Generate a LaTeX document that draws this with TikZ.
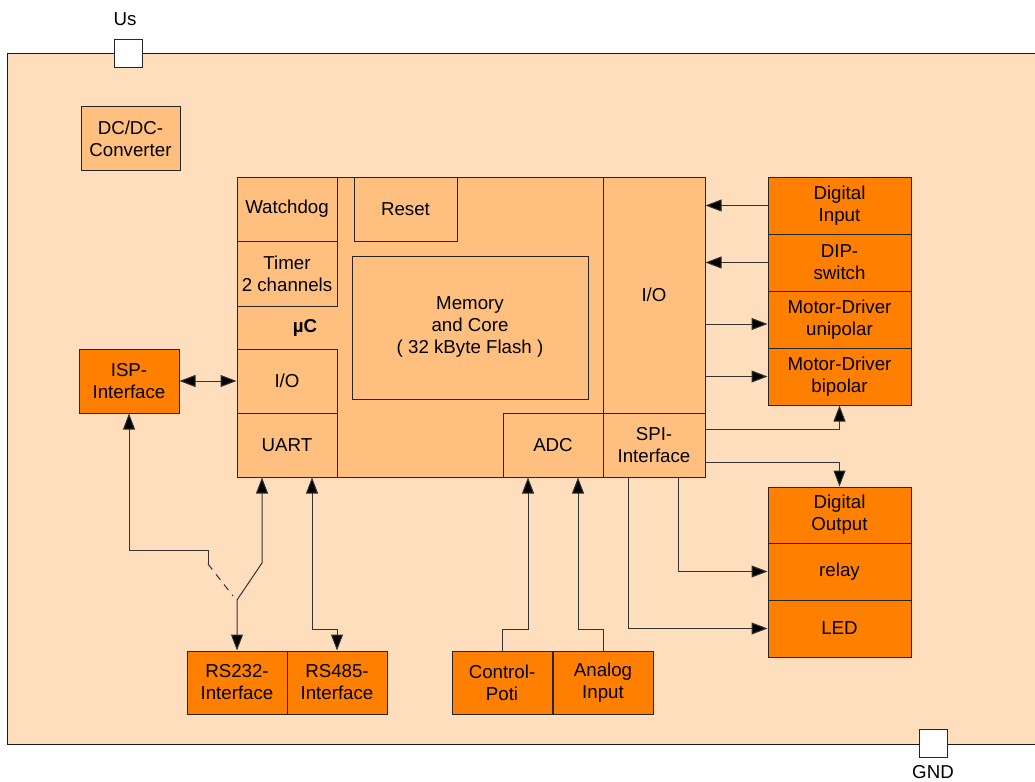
\documentclass[tikz,border=0pt]{standalone}
\usepackage{fontspec}
\setmainfont{Liberation Sans}
\usetikzlibrary{arrows.meta}
\definecolor{bgpeach}{RGB}{255,222,190}
\definecolor{lightor}{RGB}{255,191,127}
\definecolor{darkor}{RGB}{255,128,0}
\begin{document}
\begin{tikzpicture}[x=1pt,y=-1pt,
  every node/.style={font=\fontsize{18.7}{22}\selectfont, align=center, inner sep=0pt},
  lbox/.style={draw=black!85, line width=1pt, fill=lightor, rectangle},
  obox/.style={draw=black!85, line width=1pt, fill=darkor, rectangle},
  term/.style={draw=black!85, line width=1pt, fill=white, minimum width=28, minimum height=28},
  conn/.style={draw=black!80, line width=1pt, -{Triangle[length=16pt,width=12pt,fill=black]}},
  bconn/.style={draw=black!80, line width=1pt, {Triangle[length=16pt,width=12pt,fill=black]}-{Triangle[length=16pt,width=12pt,fill=black]}},
  plain/.style={draw=black!80, line width=1pt}
]
\useasboundingbox (0,0) rectangle (1035,781);
% board
\fill[bgpeach] (7,54) rectangle (1035,744);
\draw[line width=1pt, black!90] (1035,54) -- (7,54) -- (7,744) -- (1035,744);

% terminals
\node[term] (us) at (128,54) {};
\node (uslbl) at (125,19) {Us};
\node[term] (gnd) at (933,743) {};
\node (gndlbl) at (933,772) {GND};

% DC/DC
\node[lbox, minimum width=99, minimum height=63] (dcdc) at (130.5,138.5) {DC/DC-\\Converter};

% microcontroller
\node[lbox, minimum width=468, minimum height=300] (uc) at (471,327) {};
\node[lbox, minimum width=100, minimum height=64] (wd) at (287,209) {Watchdog};
\node[lbox, minimum width=100, minimum height=65] (timer) at (287,273.5) {Timer\\2 channels};
\node (uclbl) at (305,328) {\bfseries µC};
\node[lbox, minimum width=100, minimum height=64] (io1) at (287,381) {I/O};
\node[lbox, minimum width=100, minimum height=64] (uart) at (287,445) {UART};
\node[lbox, minimum width=103, minimum height=64] (reset) at (405.5,209) {Reset};
\node[lbox, minimum width=236, minimum height=143] (mem) at (470,327.5) {Memory\\and Core\\( 32 kByte Flash )};
\node[lbox, minimum width=100, minimum height=64] (adc) at (553,445) {ADC};
\node[lbox, minimum width=102, minimum height=236] (io2) at (654,295) {I/O};
\node[lbox, minimum width=102, minimum height=64] (spi) at (654,445) {SPI-\\Interface};

% right side peripherals
\node[obox, minimum width=143, minimum height=57] (din) at (839.5,205.5) {Digital\\Input};
\node[obox, minimum width=143, minimum height=57] (dip) at (839.5,262.5) {DIP-\\switch};
\node[obox, minimum width=143, minimum height=57] (uni) at (839.5,319.5) {Motor-Driver\\unipolar};
\node[obox, minimum width=143, minimum height=57] (bip) at (839.5,376.5) {Motor-Driver\\bipolar};
\node[obox, minimum width=143, minimum height=56] (dout) at (839.5,515) {Digital\\Output};
\node[obox, minimum width=143, minimum height=57] (relay) at (839.5,571.5) {relay};
\node[obox, minimum width=143, minimum height=57] (led) at (839.5,628.5) {LED};

% bottom peripherals
\node[obox, minimum width=100, minimum height=63] (poti) at (502,682.5) {Control-\\Poti};
\node[obox, minimum width=100, minimum height=63] (analog) at (603,682.5) {Analog\\Input};
\node[obox, minimum width=100, minimum height=63] (rs232) at (237,682.5) {RS232-\\Interface};
\node[obox, minimum width=100, minimum height=63] (rs485) at (337,682.5) {RS485-\\Interface};

% left
\node[obox, minimum width=100, minimum height=64] (isp) at (129,381) {ISP-\\Interface};

% helper coordinates
\coordinate (y324) at (0,324);
\coordinate (y429) at (0,429);
\coordinate (y462) at (0,462);
\coordinate (y629) at (0,629);
\coordinate (y550) at (0,550);
\coordinate (x678) at (678,0);
\coordinate (x628) at (628,0);
\coordinate (x528) at (528,0);
\coordinate (x578) at (578,0);
\coordinate (x262) at (262,0);
\coordinate (x312) at (312,0);
\coordinate (sw1) at (262,563);
\coordinate (sw2) at (237,600);
\coordinate (isp1) at (208,550);
\coordinate (isp2) at (208,564);
\coordinate (isp3) at (233,596);

% right connectors
\draw[conn] (din.west) -- (din.west -| io2.east);
\draw[conn] (dip.west) -- (dip.west -| io2.east);
\draw[conn] (io2.east |- y324) -- (uni.west |- y324);
\draw[conn] (io2.east |- bip.west) -- (bip.west);
\draw[conn] (spi.east |- y429) -| (bip.south);
\draw[conn] (spi.east |- y462) -| (dout.north);
\draw[conn] (x678 |- spi.south) |- (relay.west);
\draw[conn] (x628 |- spi.south) |- (led.west);

% ADC connectors
\draw[conn] (poti.north) -- (poti.north |- y629) -- (x528 |- y629) -- (x528 |- adc.south);
\draw[conn] (analog.north) -- (analog.north |- y629) -- (x578 |- y629) -- (x578 |- adc.south);

% ISP / UART connectors
\draw[bconn] (isp.east) -- (io1.west);
\draw[bconn] (x262 |- uart.south) -- (sw1) -- (sw2) -- (rs232.north);
\draw[bconn] (x312 |- uart.south) -- (x312 |- y629) -- (rs485.north |- y629) -- (rs485.north);
\draw[conn] (isp2) -- (isp1) -- (isp.south |- y550) -- (isp.south);
\draw[plain, dash pattern=on 7pt off 6pt] (isp2) -- (isp3);
\end{tikzpicture}
\end{document}
